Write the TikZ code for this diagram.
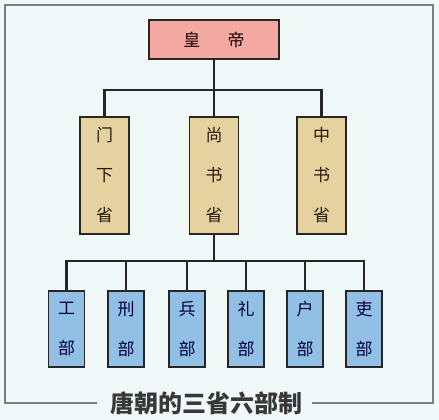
\documentclass[tikz,border=0pt]{standalone}
\usepackage{fontspec}
\newfontfamily\cjk{Noto Sans CJK SC}
\usetikzlibrary{calc}
\definecolor{bgcol}{HTML}{F1F9F8}
\definecolor{empfill}{HTML}{F4A8A2}
\definecolor{shengfill}{HTML}{E6D29E}
\definecolor{bufill}{HTML}{92BFE4}
\definecolor{linecol}{HTML}{262626}
\definecolor{framecol}{HTML}{7A7E7E}
\tikzset{
 box/.style={draw=linecol,line width=1.8pt,inner sep=0,align=center,font=\cjk\fontsize{17}{40}\selectfont},
 emperor/.style={box,fill=empfill,minimum width=130pt,minimum height=39pt,text=black!75!red!40!black},
 sheng/.style={box,fill=shengfill,minimum width=49pt,minimum height=117pt,text=black!80!brown},
 bu/.style={box,fill=bufill,minimum width=36pt,minimum height=76pt,text=blue!25!black},
 link/.style={draw=linecol,line width=2.2pt},
 frame/.style={draw=framecol,line width=1.4pt}
}
\begin{document}
\begin{tikzpicture}[x=1pt,y=-1pt]
\fill[bgcol] (0,0) rectangle (439,420);
\useasboundingbox (0,0) rectangle (439,420);
% frame with a gap for the title
\draw[frame] (97,403) -- (5,403) -- (5,5) -- (433,5) -- (433,403) -- (312,403);
\node[font=\cjk\bfseries\fontsize{24}{24}\selectfont,text=black!78] (title) at (206,403) {唐朝的三省六部制};
% emperor and the three departments
\node[emperor] (emp) at (214,39.5) {皇\hspace{1.6em}帝};
\node[sheng] (menxia) at (104.5,175.5) {门\\下\\省};
\node[sheng] (shangshu) at (214,175.5) {尚\\书\\省};
\node[sheng] (zhongshu) at (321.5,175.5) {中\\书\\省};
\coordinate (bus1) at (214,90);
\draw[link] (emp.south) -- (shangshu.north);
\draw[link] (menxia.north) |- (bus1) -| (zhongshu.north);
% six ministries
\node[bu] (gong) at (66.5,329) {工\\部};
\node[bu] (xing) at (126,329) {刑\\部};
\node[bu] (bing) at (187,329) {兵\\部};
\node[bu] (li) at (246,329) {礼\\部};
\node[bu] (hu) at (305,329) {户\\部};
\node[bu] (libu) at (364,329) {吏\\部};
\coordinate (bus2) at (214,261);
\draw[link] (shangshu.south) -- (bus2);
\draw[link] (gong.north) |- (bus2) -| (libu.north);
\foreach \n in {xing,bing,li,hu}
  \draw[link] (\n.north) -- (\n.north |- bus2);
\end{tikzpicture}
\end{document}
